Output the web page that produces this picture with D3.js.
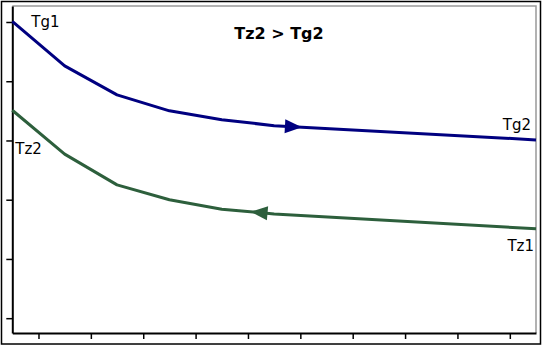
<!DOCTYPE html>
<html>
<head>
<meta charset="utf-8">
<script src="https://cdn.jsdelivr.net/npm/d3@7"></script>
<style>
  html, body { margin: 0; padding: 0; background: #fff; }
  svg { display: block; font-family: "DejaVu Sans", sans-serif; }
</style>
</head>
<body>
<div id="chart"></div>
<script>
// -----------------------------
// DATA
// -----------------------------
const X_VALUES = [0, 1, 2, 3, 4, 5, 10];
const TG_VALUES = [5.26, 4.51, 4.02, 3.75, 3.60, 3.50, 3.26];
const TZ_VALUES = [3.76, 3.02, 2.50, 2.25, 2.09, 2.01, 1.76];
const X_TICKS = [0.5, 1.5, 2.5, 3.5, 4.5, 5.5, 6.5, 7.5, 8.5, 9.5];
const Y_TICKS = [0.25, 1.25, 2.25, 3.25, 4.25, 5.25];
const TITLE = "Tz2 > Tg2";
const TG_LABELS = ["Tg1", "Tg2"];
const TZ_LABELS = ["Tz2", "Tz1"];
const TG_ARROW_AT = 5.53;   // arrow tip, x units, pointing right
const TZ_ARROW_AT = 4.55;   // arrow tip, x units, pointing left

// -----------------------------
// LAYOUT
// -----------------------------
const width = 543, height = 346;
const plot = { left: 12.3, right: 536, top: 6, bottom: 333 };
const BLUE = "#000080";
const GREEN = "#2d5f3c";

const svg = d3.select("#chart").append("svg")
  .attr("width", width)
  .attr("height", height);

// outer frame
svg.append("rect")
  .attr("x", 1.5).attr("y", 1.5)
  .attr("width", 539).attr("height", 342.5)
  .attr("fill", "none")
  .attr("stroke", "#000")
  .attr("stroke-width", 1.5);

const x = d3.scaleLinear().domain([0, 10]).range([plot.left, plot.right]);
const y = d3.scaleLinear().domain([0, 5.52]).range([plot.bottom, plot.top]);

// plot frame (top / right, gray)
svg.append("path")
  .attr("d", `M${plot.left},${plot.top}H${plot.right}V${plot.bottom}`)
  .attr("fill", "none")
  .attr("stroke", "#999")
  .attr("stroke-width", 1.5);

// axes
const xAxis = svg.append("g")
  .attr("transform", `translate(0,${plot.bottom})`)
  .call(d3.axisBottom(x).tickValues(X_TICKS).tickSize(6).tickSizeOuter(0).tickFormat(""));

const yAxis = svg.append("g")
  .attr("transform", `translate(${plot.left},0)`)
  .call(d3.axisLeft(y).tickValues(Y_TICKS).tickSize(6).tickSizeOuter(0).tickFormat(""));

[xAxis, yAxis].forEach(a => {
  a.select(".domain").attr("stroke", "#000").attr("stroke-width", 2);
  a.selectAll(".tick line").attr("stroke", "#000").attr("stroke-width", 1.5);
});

// -----------------------------
// LINES
// -----------------------------
const tgData = X_VALUES.map((v, i) => ({ x: v, y: TG_VALUES[i] }));
const tzData = X_VALUES.map((v, i) => ({ x: v, y: TZ_VALUES[i] }));

const lineGen = d3.line()
  .x(d => x(d.x))
  .y(d => y(d.y));

svg.append("path")
  .datum(tgData)
  .attr("d", lineGen)
  .attr("fill", "none")
  .attr("stroke", BLUE)
  .attr("stroke-width", 3)
  .attr("stroke-linejoin", "round");

svg.append("path")
  .datum(tzData)
  .attr("d", lineGen)
  .attr("fill", "none")
  .attr("stroke", GREEN)
  .attr("stroke-width", 3)
  .attr("stroke-linejoin", "round");

// -----------------------------
// ARROWS
// -----------------------------
function valueAt(data, u) {
  const i = Math.max(1, d3.bisector(d => d.x).left(data, u));
  const a = data[i - 1], b = data[i];
  const t = (u - a.x) / (b.x - a.x);
  return { y: a.y + t * (b.y - a.y), a, b };
}

function drawArrow(data, u, dir, color) {
  const p = valueAt(data, u);
  const px = x(u), py = y(p.y);
  const ang = Math.atan2(y(p.b.y) - y(p.a.y), x(p.b.x) - x(p.a.x)) * 180 / Math.PI
    + (dir < 0 ? 180 : 0);
  svg.append("path")
    .attr("d", "M0,0L-17,-7L-17,7Z")
    .attr("transform", `translate(${px},${py}) rotate(${ang})`)
    .attr("fill", color);
}

drawArrow(tgData, TG_ARROW_AT, 1, BLUE);
drawArrow(tzData, TZ_ARROW_AT, -1, GREEN);

// -----------------------------
// TEXT
// -----------------------------
svg.append("text")
  .attr("x", 279).attr("y", 39)
  .attr("text-anchor", "middle")
  .attr("font-size", 16)
  .attr("font-weight", "bold")
  .text(TITLE);

const first = 0, last = X_VALUES.length - 1;
const labelStyle = t => t.attr("font-size", 15).attr("fill", "#000");

svg.append("text")
  .attr("x", x(X_VALUES[first]) + 19).attr("y", y(TG_VALUES[first]) + 6)
  .call(labelStyle).text(TG_LABELS[0]);

svg.append("text")
  .attr("x", x(X_VALUES[last]) - 5).attr("y", y(TG_VALUES[last]) - 10)
  .attr("text-anchor", "end")
  .call(labelStyle).text(TG_LABELS[1]);

svg.append("text")
  .attr("x", x(X_VALUES[first]) + 3).attr("y", y(TZ_VALUES[first]) + 44)
  .call(labelStyle).text(TZ_LABELS[0]);

svg.append("text")
  .attr("x", x(X_VALUES[last]) - 2).attr("y", y(TZ_VALUES[last]) + 22)
  .attr("text-anchor", "end")
  .call(labelStyle).text(TZ_LABELS[1]);
</script>
</body>
</html>
